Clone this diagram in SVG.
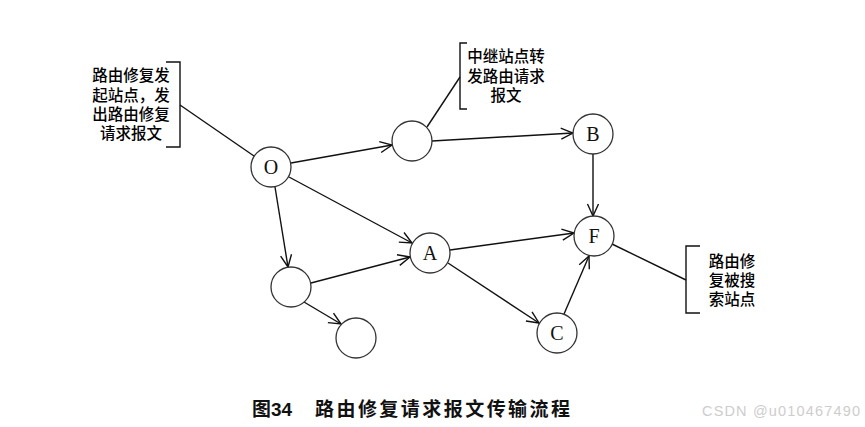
<svg xmlns="http://www.w3.org/2000/svg" width="865" height="427" viewBox="0 0 865 427">
<style>
.n{fill:#fff;stroke:#333;stroke-width:1.3}
.lb{font-family:"Liberation Serif",serif;font-size:20px;fill:#111;text-anchor:middle}
.e{stroke:#111;stroke-width:1.4;fill:none}
.br{stroke:#111;stroke-width:1.4;fill:none}
.t{font-family:"Liberation Serif","Noto Sans CJK SC",serif;font-size:15.5px;font-weight:500;fill:#000;text-anchor:middle}
.cap{font-family:"Liberation Sans","Noto Sans CJK SC",sans-serif;font-size:19px;fill:#111;font-weight:bold}
</style>
<defs>
<marker id="ar" markerWidth="14" markerHeight="14" refX="13" refY="7" orient="auto" markerUnits="userSpaceOnUse">
<path d="M1,1.5 L13,7 L1,12.5" fill="none" stroke="#111" stroke-width="1.4"/>
</marker>
</defs>
<rect width="865" height="427" fill="#fff"/>
<g id="connectors">
<line class="e" x1="291" y1="163" x2="392" y2="145" marker-end="url(#ar)"/>
<line class="e" x1="432" y1="141" x2="573" y2="133" marker-end="url(#ar)"/>
<line class="e" x1="593" y1="154" x2="593" y2="216" marker-end="url(#ar)"/>
<line class="e" x1="289" y1="177" x2="412" y2="243" marker-end="url(#ar)"/>
<line class="e" x1="275" y1="187" x2="288" y2="267" marker-end="url(#ar)"/>
<line class="e" x1="311" y1="283" x2="410" y2="257" marker-end="url(#ar)"/>
<line class="e" x1="304" y1="302" x2="341" y2="324" marker-end="url(#ar)"/>
<line class="e" x1="450" y1="250" x2="574" y2="233" marker-end="url(#ar)"/>
<line class="e" x1="448" y1="263" x2="539" y2="323" marker-end="url(#ar)"/>
<line class="e" x1="564" y1="314" x2="589" y2="256" marker-end="url(#ar)"/>
<line class="e" x1="180" y1="105" x2="254" y2="156"/>
<line class="e" x1="460" y1="77" x2="427" y2="127"/>
<line class="e" x1="612" y1="244" x2="686" y2="280"/>
</g>
<g id="node-O"><circle class="n" cx="271" cy="167" r="20"/><text class="lb" x="271" y="174">O</text></g>
<g id="node-relay"><circle class="n" cx="412" cy="141" r="20"/></g>
<g id="node-B"><circle class="n" cx="593" cy="134" r="20"/><text class="lb" x="593" y="141">B</text></g>
<g id="node-F"><circle class="n" cx="594" cy="236" r="20"/><text class="lb" x="594" y="243">F</text></g>
<g id="node-A"><circle class="n" cx="430" cy="253" r="20"/><text class="lb" x="430" y="260">A</text></g>
<g id="node-left"><circle class="n" cx="291" cy="287" r="20"/></g>
<g id="node-bottom"><circle class="n" cx="356" cy="338" r="20"/></g>
<g id="node-C"><circle class="n" cx="557" cy="333" r="20"/><text class="lb" x="557" y="340">C</text></g>
<g id="note-left">
<path class="br" d="M166,62 H180 V147 H166"/>
<text class="t" x="131" y="81">路由修复发</text>
<text class="t" x="131" y="101">起站点，发</text>
<text class="t" x="131" y="120">出路由修复</text>
<text class="t" x="131" y="139">请求报文</text>
</g>
<g id="note-top">
<path class="br" d="M467,43 H460 V109 H467"/>
<text class="t" x="506" y="62">中继站点转</text>
<text class="t" x="506" y="82">发路由请求</text>
<text class="t" x="506" y="101">报文</text>
</g>
<g id="note-right">
<path class="br" d="M700,246 H686 V313 H700"/>
<text class="t" x="732" y="267">路由修</text>
<text class="t" x="732" y="286">复被搜</text>
<text class="t" x="732" y="305">索站点</text>
</g>
<text class="cap" x="252" y="416" textLength="40" lengthAdjust="spacingAndGlyphs">图34</text>
<text class="cap" x="315" y="416" textLength="255" lengthAdjust="spacing">路由修复请求报文传输流程</text>
<text x="702" y="416" font-family="Liberation Sans,Arial,sans-serif" font-size="14.5px" fill="#cdcdcd" textLength="158">CSDN @u010467490</text>
</svg>
